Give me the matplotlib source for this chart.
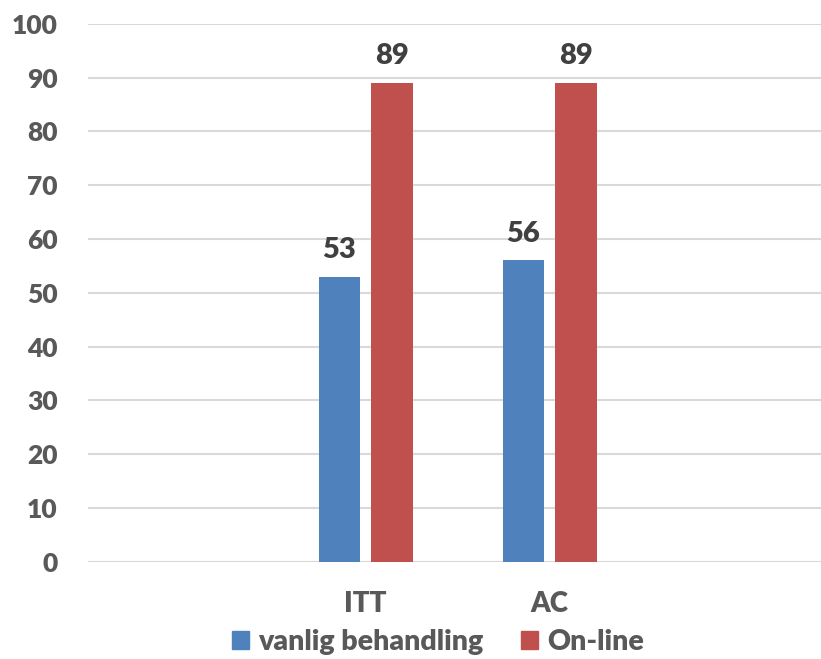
import matplotlib
matplotlib.use("Agg")
import matplotlib.pyplot as plt
from matplotlib.patches import Patch

# Data
categories = ["ITT", "AC"]
series_names = ["vanlig behandling", "On-line"]
vanlig = [53, 56]
online = [89, 89]
colors = ["#4F81BD", "#C0504D"]

plt.rcParams['font.family'] = ['Lato', 'DejaVu Sans']

fig = plt.figure(figsize=(8.21, 6.59), dpi=100)
ax = fig.add_axes([88 / 821, (659 - 561.7) / 659, 1 - 88 / 821, 538 / 659])

x = list(range(len(categories)))
w = 0.225
off = 0.143
b1 = ax.bar([i - off for i in x], vanlig, w, color=colors[0], zorder=3)
b2 = ax.bar([i + off for i in x], online, w, color=colors[1], zorder=3)

# value labels above the bars
for bars in (b1, b2):
    for rect in bars:
        ax.annotate(f"{rect.get_height():.0f}",
                    (rect.get_x() + rect.get_width() / 2, rect.get_height()),
                    xytext=(0, 10), textcoords="offset points",
                    ha="center", va="bottom", fontsize=21, fontweight="heavy",
                    color="#404040")

ax.set_ylim(0, 100)
ax.set_xlim(-1.51, 2.475)
ax.set_yticks(range(0, 101, 10))
ax.set_xticks(x)
ax.set_xticklabels(categories)
ax.grid(axis="y", color="#D9D9D9", linewidth=1.5, zorder=0)
for s in ax.spines.values():
    s.set_visible(False)
ax.tick_params(axis="y", length=0, labelsize=19, labelcolor="#595959", pad=22)
ax.tick_params(axis="x", length=0, labelsize=20, labelcolor="#595959", pad=21)
for lab in ax.get_xticklabels() + ax.get_yticklabels():
    lab.set_fontweight("heavy")

handles = [Patch(color=c, label=n) for c, n in zip(colors, series_names)]
fig.legend(handles=handles, loc="center", bbox_to_anchor=(438 / 821, 1 - 642 / 659),
           ncol=2, frameon=False, handlelength=0.6, handleheight=0.6,
           handletextpad=0.32, columnspacing=1.3, borderpad=0,
           prop={"weight": "heavy", "size": 20.5})
for t in fig.legends[0].get_texts():
    t.set_color("#595959")

fig.savefig("out.png", dpi=100)
